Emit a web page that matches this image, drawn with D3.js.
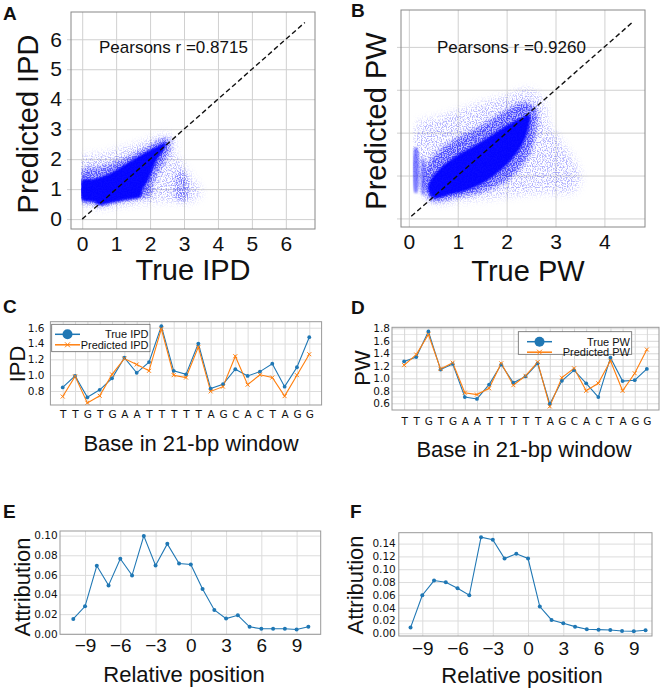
<!DOCTYPE html>
<meta charset="utf-8">
<script src="https://cdn.jsdelivr.net/npm/d3@7"></script>
<style>
  body { margin: 0; background: #fff; }
</style>
<div id="fig"></div>
<script>
// ---- values ----
var bases = ["T","T","G","T","G","A","A","T","T","T","T","T","A","G","C","A","C","T","A","G","G"];
var ipdTrue = [0.845,0.99,0.72,0.815,0.96,1.22,1.03,1.165,1.62,1.055,1.01,1.40,0.83,0.885,1.075,0.99,1.045,1.145,0.855,1.10,1.48];
var ipdPred = [0.73,0.985,0.65,0.74,1.01,1.21,1.135,1.055,1.585,1.0,0.97,1.355,0.795,0.855,1.24,0.88,1.005,0.97,0.735,1.0,1.265];
var pwTrue = [1.27,1.34,1.75,1.14,1.23,0.70,0.67,0.90,1.22,0.93,1.03,1.24,0.59,0.96,1.13,0.92,0.70,1.33,0.955,0.97,1.15];
var pwPred = [1.21,1.38,1.70,1.15,1.25,0.77,0.74,0.84,1.24,0.89,1.04,1.26,0.55,1.01,1.16,0.80,0.92,1.28,0.80,1.08,1.46];

var relPos = [-10,-9,-8,-7,-6,-5,-4,-3,-2,-1,0,1,2,3,4,5,6,7,8,9,10];
var attrIPD = [0.0152,0.028,0.0693,0.0493,0.0764,0.0595,0.0997,0.0696,0.0916,0.0716,0.0706,0.0456,0.0243,0.0155,0.0189,0.0071,0.0051,0.0051,0.0051,0.0044,0.0071];
var attrPW = [0.0089,0.0594,0.0823,0.0797,0.0703,0.0594,0.150,0.146,0.1167,0.124,0.1167,0.0417,0.0208,0.0156,0.0104,0.0063,0.0057,0.0052,0.0036,0.0031,0.0047];

var corrText = ["Pearsons r =0.8715", "Pearsons r =0.9260"];

// density outlines of the scatter clouds (data units)
var ipdHalo = [[0,0.55],[0,2.05],[0.5,2.15],[1.0,2.3],[1.5,2.45],[2.0,2.65],[2.5,2.8],[2.75,2.6],[2.7,2.2],[2.9,1.9],[3.1,1.55],[3.35,1.2],[3.5,0.85],[3.2,0.6],[2.6,0.62],[2.0,0.58],[1.5,0.52],[1.0,0.45],[0.5,0.38]];
var ipdBlob = [[2.78,0.65],[2.78,1.5],[2.95,1.6],[3.1,1.3],[3.1,0.7],[2.95,0.6]];
var ipdMid = [[0,0.58],[0,1.62],[0.5,1.72],[1.0,1.9],[1.5,2.15],[2.0,2.45],[2.4,2.68],[2.6,2.6],[2.55,2.25],[2.4,1.9],[2.2,1.5],[2.05,1.1],[2.0,0.8],[1.6,0.68],[1.0,0.56],[0.5,0.44],[0.3,0.55]];
var ipdCore = [[0,0.64],[0,1.3],[0.33,1.34],[0.82,1.53],[1.31,1.86],[1.8,2.19],[2.2,2.42],[2.47,2.55],[2.4,2.3],[2.2,1.97],[1.95,1.3],[1.78,0.97],[1.72,0.75],[1.31,0.65],[0.82,0.54],[0.5,0.47],[0.35,0.57]];

var pwHalo = [[0.5,0.38],[0.2,0.8],[0.18,2.2],[0.6,2.35],[1.0,2.5],[1.5,2.7],[2.0,2.85],[2.45,3.0],[2.75,2.75],[2.85,2.2],[3.1,1.8],[3.35,1.4],[3.5,1.0],[3.4,0.65],[2.6,0.6],[1.8,0.5],[1.0,0.42]];
var pwMid = [[0.45,0.42],[0.32,0.75],[0.35,1.2],[0.55,1.5],[0.9,1.8],[1.4,2.1],[1.9,2.45],[2.35,2.7],[2.6,2.55],[2.6,2.1],[2.5,1.6],[2.25,1.15],[1.95,0.85],[1.5,0.62],[1.0,0.5]];
var pwCore = [[0.5,0.47],[0.39,0.74],[0.6,1.13],[0.94,1.44],[1.42,1.75],[1.96,2.14],[2.3,2.35],[2.47,2.42],[2.44,2.06],[2.3,1.67],[2.03,1.28],[1.62,0.89],[1.21,0.66],[0.8,0.54]];
var pwStreaks = [[[0.12,0.6],[0.12,1.65],[0.17,1.65],[0.17,0.6]], [[0.27,0.55],[0.27,1.4],[0.31,1.4],[0.31,0.55]]];

var blue = "#1f77b4", orange = "#ff7f0e", cloud = "#0000ff";
var sans = "'Liberation Sans', Arial, sans-serif", dvs = "'DejaVu Sans', sans-serif";

var svg = d3.select("#fig").append("svg").attr("width", 661).attr("height", 692)
  .attr("font-family", sans).attr("fill", "#111");
var defs = svg.append("defs");
defs.append("filter").attr("id", "blur1").append("feGaussianBlur").attr("stdDeviation", 0.8);
defs.append("filter").attr("id", "blur2").append("feGaussianBlur").attr("stdDeviation", 2.5);

// speckled, blurred fill to mimic sparse scatter points
function speckle(id, sd, freq, gain, bias) {
  var f = defs.append("filter").attr("id", id).attr("x", "-20%").attr("y", "-20%").attr("width", "140%").attr("height", "140%");
  f.append("feGaussianBlur").attr("in", "SourceGraphic").attr("stdDeviation", sd).attr("result", "b");
  f.append("feTurbulence").attr("type", "fractalNoise").attr("baseFrequency", freq).attr("numOctaves", 1).attr("seed", 3).attr("result", "n");
  f.append("feColorMatrix").attr("in", "n").attr("type", "matrix")
    .attr("values", "0 0 0 0 0  0 0 0 0 0  0 0 0 0 0  " + gain + " 0 0 0 " + bias).attr("result", "m");
  f.append("feComposite").attr("in", "b").attr("in2", "m").attr("operator", "in");
}
speckle("spk", 4, 0.8, 6, -2.8);
speckle("spk2", 2, 0.8, 5, -1.8);

// box = [left, right, top, bottom]
function makePanel(box, xd, yd) {
  var p = {box: box, g: svg.append("g")};
  p.x = d3.scaleLinear().domain(xd).range([box[0], box[1]]);
  p.y = d3.scaleLinear().domain(yd).range([box[3], box[2]]);
  return p;
}

function addAxes(p, o) {
  var w = p.box[1] - p.box[0], h = p.box[3] - p.box[2];
  var gx = p.g.append("g").attr("transform", "translate(0," + p.box[3] + ")")
    .call(d3.axisBottom(p.x).tickValues(o.xt).tickFormat(o.xf).tickSizeInner(-h).tickSizeOuter(0).tickPadding(o.xp));
  var gy = p.g.append("g").attr("transform", "translate(" + p.box[0] + ",0)")
    .call(d3.axisLeft(p.y).tickValues(o.yt).tickFormat(o.yf).tickSizeInner(-w).tickSizeOuter(0).tickPadding(o.yp));
  gx.attr("font-family", o.xfam).attr("font-size", o.xfs);
  gy.attr("font-family", o.yfam).attr("font-size", o.yfs);
  [gx, gy].forEach(function(g) {
    g.select(".domain").remove();
    g.selectAll("line").attr("stroke", o.grid).attr("stroke-width", 1);
    g.selectAll("text").attr("fill", "#111");
  });
  if (o.outTick) gy.selectAll("line").attr("x1", -o.outTick);
  if (o.minorY) {
    p.g.insert("g", ":first-child").selectAll("line").data(o.minorY).join("line")
      .attr("x1", p.box[0]).attr("x2", p.box[1])
      .attr("y1", function(d) { return p.y(d); }).attr("y2", function(d) { return p.y(d); })
      .attr("stroke", "#e6e6e6");
  }
}

function addFrame(p, col) {
  p.g.append("rect").attr("x", p.box[0]).attr("y", p.box[2])
    .attr("width", p.box[1] - p.box[0]).attr("height", p.box[3] - p.box[2])
    .attr("fill", "none").attr("stroke", col).attr("stroke-width", 1);
}

function yLabel(txt, x, cy, fs) {
  svg.append("text").attr("transform", "translate(" + x + "," + cy + ") rotate(-90)")
    .attr("text-anchor", "middle").attr("font-size", fs).text(txt);
}
function xLabel(txt, cx, y, fs) {
  svg.append("text").attr("x", cx).attr("y", y).attr("text-anchor", "middle").attr("font-size", fs).text(txt);
}
function letter(txt, x, y) {
  svg.append("text").attr("x", x).attr("y", y).attr("font-size", 19).attr("font-weight", "bold").text(txt);
}

// ---------- scatter panels ----------
function cloudPanel(p, id, xmin, layers, diag, label) {
  // the measured quantity is never negative: clip the cloud at its left limit
  defs.append("clipPath").attr("id", id).append("rect")
    .attr("x", p.x(xmin)).attr("y", p.box[2]).attr("width", p.box[1] - p.x(xmin)).attr("height", p.box[3] - p.box[2]);
  var area = d3.line().x(function(d) { return p.x(d[0]); }).y(function(d) { return p.y(d[1]); })
    .curve(d3.curveCatmullRomClosed.alpha(0.5));
  var cg = p.g.append("g").attr("clip-path", "url(#" + id + ")");
  layers.forEach(function(l) {
    cg.append("path").attr("d", area(l.pts)).attr("fill", cloud)
      .attr("fill-opacity", l.op).attr("filter", "url(#" + l.f + ")");
  });
  p.g.append("line").attr("x1", p.x(diag[0])).attr("y1", p.y(diag[0]))
    .attr("x2", p.x(diag[1])).attr("y2", p.y(diag[1]))
    .attr("stroke", "#111").attr("stroke-width", 1.4).attr("stroke-dasharray", "5,3");
  p.g.append("text").attr("x", label[0]).attr("y", label[1]).attr("font-size", 17).text(label[2]);
}

var pA = makePanel([71, 315, 12, 229], [-0.33, 6.86], [-0.33, 6.91]);
addAxes(pA, {xt: [0,1,2,3,4,5,6], yt: [0,1,2,3,4,5,6], xf: d3.format("d"), yf: d3.format("d"),
  xp: 7, yp: 9, xfs: 21, yfs: 21, xfam: sans, yfam: sans, grid: "#d0d0d0", outTick: 4});
cloudPanel(pA, "clipA", -0.03, [
  {pts: ipdHalo, op: 0.3, f: "spk"},
  {pts: ipdBlob, op: 0.35, f: "spk2"},
  {pts: ipdMid, op: 0.4, f: "spk2"},
  {pts: ipdMid, op: 0.25, f: "blur2"},
  {pts: ipdCore, op: 0.95, f: "blur1"}
], [0, 6.56], [99, 53, corrText[0]]);
addFrame(pA, "#888");
yLabel("Predicted IPD", 38, 124, 29);
xLabel("True IPD", 193, 280, 29);

var pB = makePanel([401, 645, 10, 227], [-0.16, 4.83], [-0.2, 4.86]);
addAxes(pB, {xt: [0,1,2,3,4], yt: [0,1,2,3,4], xf: d3.format("d"), yf: "",
  xp: 7.3, yp: 9, xfs: 21, yfs: 21, xfam: sans, yfam: sans, grid: "#d0d0d0", outTick: 4});
cloudPanel(pB, "clipB", 0.08, [
  {pts: pwHalo, op: 0.3, f: "spk"},
  {pts: pwStreaks[0], op: 0.5, f: "blur1"},
  {pts: pwStreaks[1], op: 0.4, f: "blur1"},
  {pts: pwMid, op: 0.45, f: "spk2"},
  {pts: pwMid, op: 0.25, f: "blur2"},
  {pts: pwCore, op: 0.95, f: "blur1"}
], [0.05, 4.6], [437, 53, corrText[1]]);
addFrame(pB, "#888");
yLabel("Predicted PW", 386, 121, 29);
xLabel("True PW", 528, 281, 29);

// ---------- per-base line panels ----------
var idx = bases.map(function(d, i) { return i; });

function linePanel(p, s1, s2) {
  var ln = d3.line().x(function(d, i) { return p.x(i); }).y(function(d) { return p.y(d); });
  p.g.append("path").attr("d", ln(s1)).attr("fill", "none").attr("stroke", blue).attr("stroke-width", 1.1);
  p.g.append("path").attr("d", ln(s2)).attr("fill", "none").attr("stroke", orange).attr("stroke-width", 1.1);
  p.g.append("g").selectAll("circle").data(s1).join("circle")
    .attr("cx", function(d, i) { return p.x(i); }).attr("cy", function(d) { return p.y(d); })
    .attr("r", 1.9).attr("fill", blue);
  p.g.append("g").selectAll("path").data(s2).join("path")
    .attr("d", function(d, i) {
      var cx = p.x(i), cy = p.y(d), k = 2;
      return "M" + (cx - k) + "," + (cy - k) + "L" + (cx + k) + "," + (cy + k) +
             "M" + (cx - k) + "," + (cy + k) + "L" + (cx + k) + "," + (cy - k);
    })
    .attr("stroke", orange).attr("stroke-width", 1);
}

function legend(box, names, x0, x1, textX) {
  var g = svg.append("g");
  g.append("rect").attr("x", box[0]).attr("y", box[1]).attr("width", box[2]).attr("height", box[3])
    .attr("fill", "#fff").attr("stroke", "#666").attr("stroke-width", 0.8);
  var rows = [{c: blue, t: names[0], y: box[1] + 10}, {c: orange, t: names[1], y: box[1] + 20.5}];
  var cx = (x0 + x1) / 2;
  rows.forEach(function(r, i) {
    g.append("line").attr("x1", x0).attr("x2", x1).attr("y1", r.y).attr("y2", r.y)
      .attr("stroke", r.c).attr("stroke-width", 1.5);
    if (i === 0) {
      g.append("circle").attr("cx", cx).attr("cy", r.y).attr("r", 5).attr("fill", blue);
    } else {
      g.append("path").attr("d", "M" + (cx - 2.5) + "," + (r.y - 2.5) + "L" + (cx + 2.5) + "," + (r.y + 2.5) +
        "M" + (cx - 2.5) + "," + (r.y + 2.5) + "L" + (cx + 2.5) + "," + (r.y - 2.5))
        .attr("stroke", orange).attr("stroke-width", 1);
    }
    g.append("text").attr("x", textX).attr("y", r.y + 4).attr("text-anchor", "end")
      .attr("font-size", 11).text(r.t);
  });
}

var pC = makePanel([50.4, 321.6, 321.7, 405], [-1, 21], [0.623, 1.676]);
addAxes(pC, {xt: idx, yt: [0.8,1.0,1.2,1.4,1.6], xf: function(d) { return bases[d]; }, yf: d3.format(".1f"),
  xp: 6, yp: 6, xfs: 10.5, yfs: 10.5, xfam: dvs, yfam: dvs, grid: "#dcdcdc"});
linePanel(pC, ipdTrue, ipdPred);
addFrame(pC, "#999");
legend([51.7, 324.3, 98.3, 27.4], ["True IPD", "Predicted IPD"], 55, 80, 148.5);
yLabel("IPD", 25, 364, 22);
xLabel("Base in 21-bp window", 191, 451, 22);

var pD = makePanel([392, 659, 327.3, 410], [-1, 21], [0.493, 1.816]);
addAxes(pD, {xt: idx, yt: [0.6,0.8,1.0,1.2,1.4,1.6,1.8], xf: function(d) { return bases[d]; }, yf: d3.format(".1f"),
  xp: 8, yp: 2, xfs: 10.5, yfs: 10.5, xfam: dvs, yfam: dvs, grid: "#d6d6d6",
  minorY: [0.7,0.9,1.1,1.3,1.5,1.7]});
linePanel(pD, pwTrue, pwPred);
addFrame(pD, "#999");
legend([518.3, 331.7, 113.4, 22.6], ["True PW", "Predicted PW"], 527, 552, 630);
yLabel("PW", 370, 368, 22);
xLabel("Base in 21-bp window", 524, 457, 22);

// ---------- attribution panels ----------
function attrPanel(p, vals) {
  var ln = d3.line().x(function(d, i) { return p.x(relPos[i]); }).y(function(d) { return p.y(d); });
  p.g.append("path").attr("d", ln(vals)).attr("fill", "none").attr("stroke", blue).attr("stroke-width", 1.1);
  p.g.append("g").selectAll("circle").data(vals).join("circle")
    .attr("cx", function(d, i) { return p.x(relPos[i]); }).attr("cy", function(d) { return p.y(d); })
    .attr("r", 2).attr("fill", blue);
}
var relTicks = [-9,-6,-3,0,3,6,9];

var pE = makePanel([60, 320.7, 531, 634.3], [-11.13, 11.05], [-0.0005, 0.1047]);
addAxes(pE, {xt: relTicks, yt: [0,0.02,0.04,0.06,0.08,0.10], xf: d3.format("d"), yf: d3.format(".2f"),
  xp: 4.5, yp: 2.3, xfs: 19, yfs: 10.5, xfam: sans, yfam: dvs, grid: "#dcdcdc"});
attrPanel(pE, attrIPD);
addFrame(pE, "#999");
yLabel("Attribution", 30, 587, 22);
xLabel("Relative position", 184, 682, 22);

var pF = makePanel([398.8, 652, 532.7, 636], [-11, 10.55], [-0.0042, 0.157]);
addAxes(pF, {xt: relTicks, yt: [0,0.02,0.04,0.06,0.08,0.10,0.12,0.14], xf: d3.format("d"), yf: d3.format(".2f"),
  xp: 5.8, yp: 3, xfs: 19, yfs: 10.5, xfam: sans, yfam: dvs, grid: "#dcdcdc"});
attrPanel(pF, attrPW);
addFrame(pF, "#999");
yLabel("Attribution", 362.7, 585, 22);
xLabel("Relative position", 522, 683, 22);

// panel letters
letter("A", 3, 20);
letter("B", 351, 17);
letter("C", 3, 313);
letter("D", 351, 314);
letter("E", 3, 518);
letter("F", 350, 518);
</script>
